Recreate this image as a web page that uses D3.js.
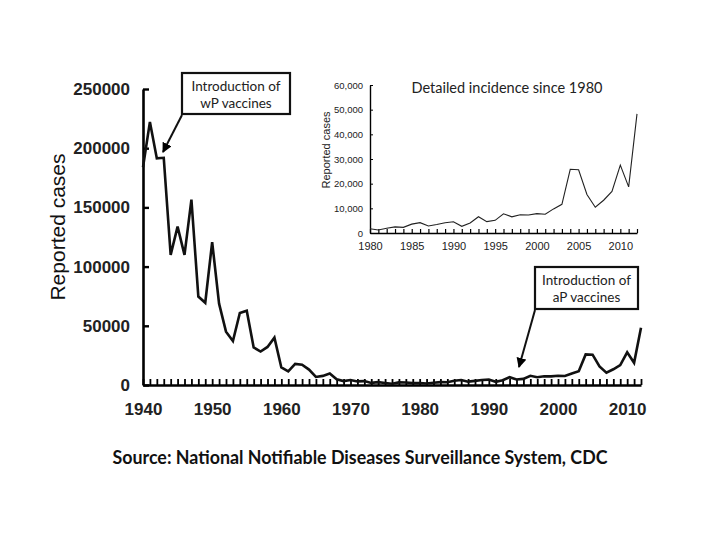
<!DOCTYPE html>
<html>
<head>
<meta charset="utf-8">
<script src="https://cdn.jsdelivr.net/npm/d3@7"></script>
<style>
  html, body { margin: 0; padding: 0; background: #fff; }
  svg { display: block; }
</style>
</head>
<body>
<svg id="chart" width="720" height="540"></svg>
<script>
// ---- Data (US reported pertussis cases) ----
const years = d3.range(1940, 2013);
const cases = [
  183866, 222202, 191383, 191890, 109873, 133792, 109860, 156517, 74715, 69479,
  120718, 68687, 45030, 37129, 60886, 62786, 31732, 28295, 32148, 40005,
  14809, 11468, 17749, 17135, 13005, 6799, 7717, 9718, 4810, 3285,
  4249, 3036, 3287, 1759, 2402, 1738, 1010, 2177, 2063, 1623,
  1730, 1248, 1895, 2463, 2276, 3589, 4195, 2823, 3450, 4157,
  4570, 2719, 4083, 6586, 4617, 5137, 7796, 6564, 7405, 7288,
  7867, 7580, 9771, 11647, 25827, 25616, 15632, 10454, 13278, 16858,
  27550, 18719, 48277
];
const mainYTicks = [0, 50000, 100000, 150000, 200000, 250000];
const mainXLabels = [1940, 1950, 1960, 1970, 1980, 1990, 2000, 2010];
const insetStart = 1980;
const insetYTicks = [0, 10000, 20000, 30000, 40000, 50000, 60000];
const insetXLabels = [1980, 1985, 1990, 1995, 2000, 2005, 2010];
const annotations = [
  { lines: ["Introduction of", "wP vaccines"] },
  { lines: ["Introduction of", "aP vaccines"] }
];
const titleText = "Detailed incidence since 1980";
const sourceText = "Source: National Notifiable Diseases Surveillance System, CDC";

const data = years.map((y, i) => ({ year: y, value: cases[i] }));
const insetData = data.filter(d => d.year >= insetStart);

const svg = d3.select("#chart");
const sansUI = "Lato, 'Open Sans', 'Noto Sans', sans-serif";
const arial = "'Liberation Sans', Arial, sans-serif";

// marker for arrows
svg.append("defs").append("marker")
  .attr("id", "arrow")
  .attr("viewBox", "0 0 10 10")
  .attr("refX", 9).attr("refY", 5)
  .attr("markerWidth", 5).attr("markerHeight", 5)
  .attr("markerUnits", "strokeWidth")
  .attr("orient", "auto")
  .append("path").attr("d", "M0,0 L10,5 L0,10 Z").attr("fill", "#000");

// ---- Main chart ----
const x = d3.scaleLinear().domain([1940, 2012]).range([143, 641]);
const y = d3.scaleLinear().domain([0, 250000]).range([385, 89]);

const yAxis = d3.axisLeft(y).tickValues(mainYTicks).tickFormat(d3.format("d"))
  .tickSizeInner(-6).tickSizeOuter(0).tickPadding(13);
const gy = svg.append("g").attr("transform", `translate(${x.range()[0]},0)`).call(yAxis);
gy.select(".domain").attr("stroke-width", 2.6);
gy.selectAll(".tick line").attr("stroke-width", 2.4);
gy.selectAll("text").attr("font-family", arial).attr("font-weight", "bold")
  .attr("font-size", 17).attr("fill", "#222");

const xAxis = d3.axisBottom(x).tickValues(years)
  .tickFormat(d => mainXLabels.includes(d) ? d : "")
  .tickSizeInner(-6).tickSizeOuter(0).tickPadding(18);
const gx = svg.append("g").attr("transform", `translate(0,${y(0)})`).call(xAxis);
gx.select(".domain").attr("stroke-width", 2.6);
gx.selectAll(".tick line").attr("stroke-width", 1.8);
gx.selectAll("text").attr("font-family", arial).attr("font-weight", "bold")
  .attr("font-size", 17).attr("fill", "#222");

svg.append("path").datum(data)
  .attr("fill", "none").attr("stroke", "#111").attr("stroke-width", 2.6)
  .attr("stroke-linejoin", "miter")
  .attr("d", d3.line().x(d => x(d.year)).y(d => y(d.value)));

svg.append("text")
  .attr("transform", "translate(65,227) rotate(-90)")
  .attr("text-anchor", "middle")
  .attr("font-family", arial).attr("font-size", 21).attr("fill", "#111")
  .text("Reported cases");

// ---- Inset ----
const xi = d3.scaleLinear().domain([1980, 2012]).range([370, 637]);
const yi = d3.scaleLinear().domain([0, 60000]).range([233, 85]);

const yiAxis = d3.axisLeft(yi).tickValues(insetYTicks).tickFormat(d3.format(","))
  .tickSizeInner(-3).tickSizeOuter(0).tickPadding(7);
const giy = svg.append("g").attr("transform", `translate(${xi.range()[0]},0)`).call(yiAxis);
giy.select(".domain").attr("stroke-width", 1.4);
giy.selectAll("text").attr("font-family", arial).attr("font-size", 9.5).attr("fill", "#222");

const xiAxis = d3.axisBottom(xi).tickValues(d3.range(1980, 2013))
  .tickFormat(d => insetXLabels.includes(d) ? d : "")
  .tickSizeInner(-4).tickSizeOuter(0).tickPadding(9);
const gix = svg.append("g").attr("transform", `translate(0,${yi(0)})`).call(xiAxis);
gix.select(".domain").attr("stroke-width", 1.6);
gix.selectAll(".tick line").attr("stroke-width", 1.2);
gix.selectAll("text").attr("font-family", arial).attr("font-size", 11).attr("fill", "#222");

svg.append("path").datum(insetData)
  .attr("fill", "none").attr("stroke", "#222").attr("stroke-width", 1.1)
  .attr("d", d3.line().x(d => xi(d.year)).y(d => yi(d.value)));

svg.append("text")
  .attr("transform", "translate(330,150) rotate(-90)")
  .attr("text-anchor", "middle")
  .attr("font-family", arial).attr("font-size", 11).attr("fill", "#222")
  .text("Reported cases");

svg.append("text")
  .attr("x", 507).attr("y", 93)
  .attr("text-anchor", "middle")
  .attr("font-family", sansUI).attr("font-size", 14.5).attr("fill", "#222")
  .text(titleText);

// ---- Annotations ----
function annot(box, ann, from, to) {
  svg.append("rect")
    .attr("x", box[0]).attr("y", box[1]).attr("width", box[2]).attr("height", box[3])
    .attr("fill", "#fff").attr("stroke", "#111").attr("stroke-width", 2.2);
  ann.lines.forEach((t, i) => {
    svg.append("text")
      .attr("x", box[0] + box[2] / 2).attr("y", box[1] + 18 + i * 16.5)
      .attr("text-anchor", "middle")
      .attr("font-family", sansUI).attr("font-size", 13.5).attr("fill", "#222")
      .text(t);
  });
  svg.append("line")
    .attr("x1", from[0]).attr("y1", from[1]).attr("x2", to[0]).attr("y2", to[1])
    .attr("stroke", "#111").attr("stroke-width", 2)
    .attr("marker-end", "url(#arrow)");
}
annot([182, 73, 108, 41], annotations[0], [182, 115], [163, 152]);
annot([535, 267, 103, 42], annotations[1], [535, 310], [519, 367]);

// ---- Source ----
svg.append("text")
  .attr("x", 360).attr("y", 464)
  .attr("text-anchor", "middle")
  .attr("font-family", sansUI).attr("font-weight", "bold").attr("font-size", 18)
  .attr("textLength", 495).attr("lengthAdjust", "spacingAndGlyphs")
  .attr("fill", "#111")
  .text(sourceText);
</script>
</body>
</html>
